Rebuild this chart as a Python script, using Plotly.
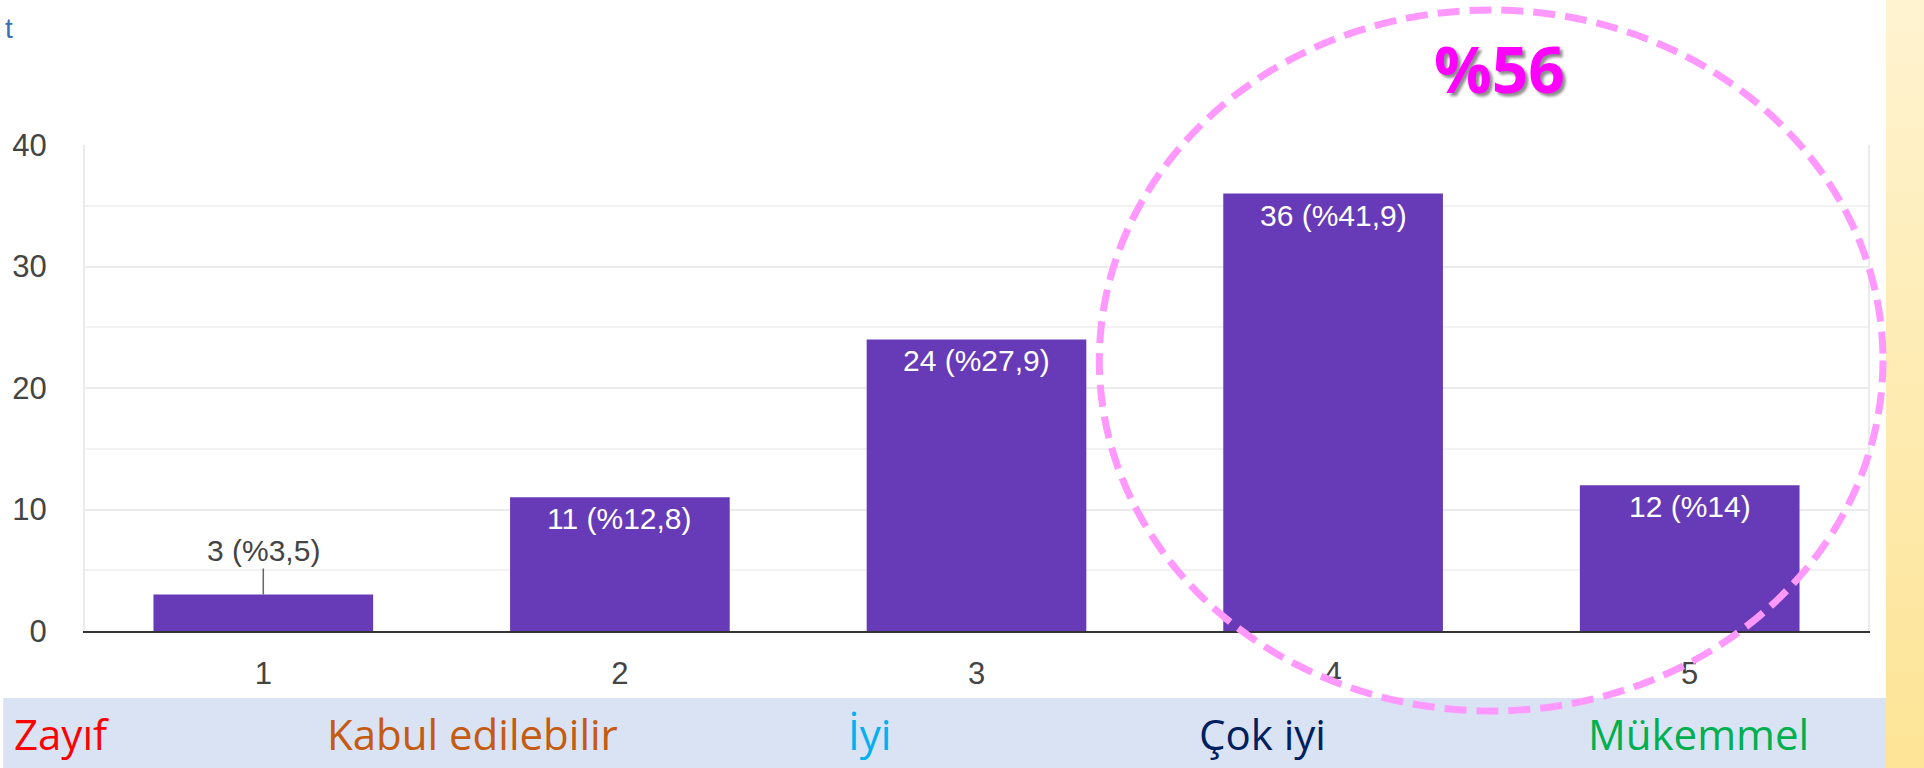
import plotly.graph_objects as go

# ---------------- data ----------------
categories = [1, 2, 3, 4, 5]
category_labels = ["1", "2", "3", "4", "5"]
counts = [3, 11, 24, 36, 12]
percents = ["%3,5", "%12,8", "%27,9", "%41,9", "%14"]
scale_labels = ["Zayıf", "Kabul edilebilir", "İyi", "Çok iyi", "Mükemmel"]
scale_colors = ["#FF0000", "#C55A11", "#00B0F0", "#002060", "#00B050"]
highlight_text = "%56"
y_ticks = [0, 10, 20, 30, 40]

# ---------------- layout geometry (pixels) ----------------
W, H = 1924, 768
L, R, T, B = 82, 1868, 145, 631


def px(x):
    return (x - L) / (R - L)


def py(y):
    return (B - y) / (B - T)


BAR_COLOR = "#673AB7"
TICK_FONT = dict(family="Liberation Sans, Arial, sans-serif", size=31, color="#444444")

fig = go.Figure()
fig.add_trace(go.Bar(
    x=categories, y=counts, width=0.616,
    marker=dict(color=BAR_COLOR, line=dict(width=0)),
    hoverinfo="skip",
))

annotations = []
for i, (c, v, p) in enumerate(zip(categories, counts, percents)):
    label = f"{v} ({p})"
    if i == 0:
        annotations.append(dict(
            x=c, y=v, xref="x", yref="y", text=label,
            showarrow=True, arrowhead=0, arrowwidth=1.5, arrowcolor="#666666",
            ax=0, ay=-44, standoff=0,
            font=dict(family="Liberation Sans, Arial, sans-serif", size=30, color="#444444"),
        ))
    else:
        annotations.append(dict(
            x=c, y=v, xref="x", yref="y", text=label, showarrow=False,
            yanchor="top", yshift=-3,
            font=dict(family="Liberation Sans, Arial, sans-serif", size=30, color="#FFFFFF"),
        ))

# bottom scale labels (left edges in pixels)
label_left_px = [9, 322, 844, 1196, 1586]
for txt, col, lx in zip(scale_labels, scale_colors, label_left_px):
    annotations.append(dict(
        x=px(lx), y=py(733), xref="paper", yref="paper", text=txt, showarrow=False,
        xanchor="left", yanchor="middle",
        font=dict(family="Open Sans, Noto Sans, sans-serif", size=42, color=col),
    ))

# highlighted percentage
annotations.append(dict(
    x=px(1499), y=py(68), xref="paper", yref="paper", text=f"<b>{highlight_text}</b>",
    showarrow=False, xanchor="center", yanchor="middle",
    font=dict(family="Open Sans, Noto Sans, sans-serif", size=64, color="#FF00FF",
              shadow="3px 3px 3px rgba(0,0,0,0.45)"),
))

# title fragment at top-left
annotations.append(dict(
    x=px(0), y=py(28), xref="paper", yref="paper", text="t", showarrow=False,
    xanchor="left", yanchor="middle",
    font=dict(family="Liberation Sans, Arial, sans-serif", size=28, color="#3b6fb6"),
))

shapes = []
# light blue band behind scale labels
shapes.append(dict(type="rect", xref="paper", yref="paper",
                   x0=px(0), x1=px(1886), y0=py(H), y1=py(698),
                   fillcolor="#DAE3F3", line=dict(width=0), layer="below"))
# yellow gradient strip on the right
n = 24
c0, c1 = (255, 243, 208), (253, 228, 150)
for k in range(n):
    t = k / (n - 1)
    col = "rgb({},{},{})".format(*[round(a + (b - a) * t) for a, b in zip(c0, c1)])
    shapes.append(dict(type="rect", xref="paper", yref="paper",
                       x0=px(1886), x1=px(W + 2),
                       y0=py(H * (k + 1) / n + 1), y1=py(H * k / n),
                       fillcolor=col, line=dict(width=0), layer="below"))
# dashed ellipse
shapes.append(dict(type="circle", xref="paper", yref="paper",
                   x0=px(1098), x1=px(1883), y0=py(711), y1=py(10),
                   line=dict(color="#FF99FF", width=7, dash="22px,10px"),
                   fillcolor="rgba(0,0,0,0)", layer="above"))

fig.update_layout(
    width=W, height=H,
    margin=dict(l=L, r=W - R, t=T, b=H - B, pad=0),
    paper_bgcolor="#FFFFFF", plot_bgcolor="#FFFFFF",
    showlegend=False,
    annotations=annotations, shapes=shapes,
)
fig.update_xaxes(
    range=[0.5, 5.5], tickvals=categories, ticktext=category_labels,
    tickfont=TICK_FONT, ticklabelstandoff=14,
    showgrid=False, showline=True, linecolor="#333333", linewidth=2,
    ticks="", zeroline=False,
)
fig.update_yaxes(
    range=[0, 40], tickvals=y_ticks, tickfont=TICK_FONT, ticklabelstandoff=30,
    showgrid=True, gridcolor="#EBEBEB", gridwidth=2,
    minor=dict(dtick=5, showgrid=True, gridcolor="#F2F2F2", gridwidth=2),
    showline=True, linecolor="#EBEBEB", linewidth=2, mirror=True,
    zeroline=False, ticks="",
)

fig.write_html(
    "out.html",
    config={"displayModeBar": False},
    post_script="document.body.style.margin='0';document.body.style.overflow='hidden';",
)
